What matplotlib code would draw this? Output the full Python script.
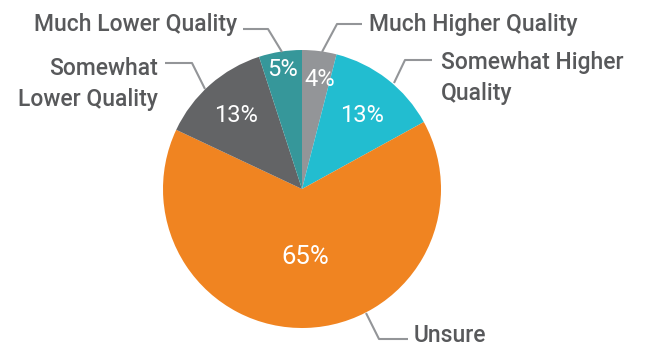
import numpy as np
import matplotlib.pyplot as plt

# survey answers, clockwise from 12 o'clock
labels = ["Much Higher Quality", "Somewhat Higher\nQuality", "Unsure",
          "Somewhat\nLower Quality", "Much Lower Quality"]
shares = [4, 13, 65, 13, 5]
colors = ["#939598", "#22bdd0", "#f08421", "#636466", "#36979a"]

W, H = 645, 346
cx, cy, R = 302, 189, 139

def px(x, y):
    # image-style coords (y down) -> axes coords (y up)
    return x, H - y

fig = plt.figure(figsize=(W / 100, H / 100), dpi=100)
ax = fig.add_axes([0, 0, 1, 1])

wedges, _ = ax.pie(shares, colors=colors, startangle=90, counterclock=False,
                   center=px(cx, cy), radius=R,
                   wedgeprops=dict(linewidth=0))
ax.set_aspect("equal")
ax.set_xlim(0, W)
ax.set_ylim(0, H)
ax.axis("off")

font = "Roboto"
txt_col = "#58595b"
line_col = "#939598"

# percentage labels inside the slices
pct_pos = [(320, 80), (362, 116), (305, 257), (236, 116), (283, 70)]
pct_size = [17, 17, 18.5, 17, 17]
for v, (x, y), s in zip(shares, pct_pos, pct_size):
    ax.text(*px(x, y), f"{v}%", color="white", fontsize=s, family=font,
            ha="center", va="center")

# leader lines: rim point -> elbow -> end next to the text
leaders = [
    [(322, 52), (337, 24), (362, 24)],
    [(394, 83), (405, 60), (432, 60)],
    [(366, 313), (379, 339), (408, 339)],
    [(205, 89), (192, 63), (165, 63)],
    [(282, 52), (268, 29), (243, 29)],
]
for pts in leaders:
    xs, ys = zip(*[px(x, y) for x, y in pts])
    ax.plot(xs, ys, color=line_col, lw=1.5, solid_capstyle="butt")

# category names
name_pos = [(369, 24, "left"), (441, 78, "left"), (414, 336, "left"),
            (158, 84, "right"), (237, 25, "right")]
for name, (x, y, ha) in zip(labels, name_pos):
    ax.text(*px(x, y), name, color=txt_col, fontsize=16.5, family=font,
            weight="medium", ha=ha, va="center", multialignment=ha,
            linespacing=1.4)

fig.savefig("out.png", dpi=100)
